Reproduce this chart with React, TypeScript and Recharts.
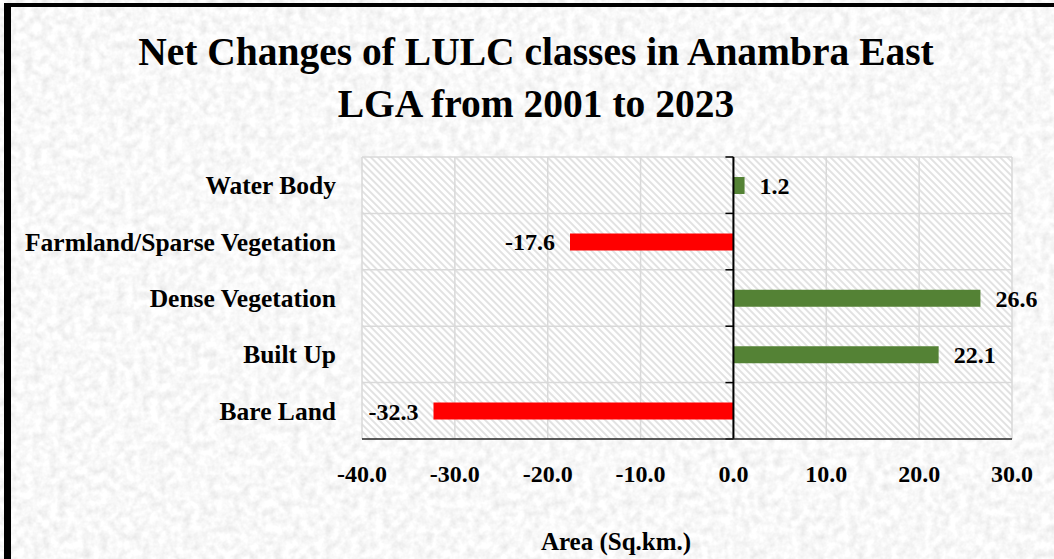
import { BarChart, Bar, XAxis, YAxis, CartesianGrid, Cell, LabelList, ReferenceLine, Label } from 'recharts';

const categories = ['Water Body', 'Farmland/Sparse Vegetation', 'Dense Vegetation', 'Built Up', 'Bare Land'];
const netChange = [1.2, -17.6, 26.6, 22.1, -32.3];
const xTicks = [-40, -30, -20, -10, 0, 10, 20, 30];

const data = categories.map((name, i) => ({ name, value: netChange[i] }));

const FONT = '"Liberation Serif", "Times New Roman", serif';
const GREEN = '#548235';
const RED = '#ff0000';

// value labels sit just past the end of each bar
const renderValue = (props: any) => {
  const { x, y, width, height, value } = props;
  const end = value >= 0 ? Math.max(x, x + width) : Math.min(x, x + width);
  const pos = value >= 0;
  return (
    <text
      x={pos ? end + 15 : end - 15}
      y={y + height / 2}
      dy="0.35em"
      textAnchor={pos ? 'start' : 'end'}
      fontFamily={FONT}
      fontWeight="bold"
      fontSize={24}
      fill="#000"
    >
      {value.toFixed(1)}
    </text>
  );
};

// zero line with small tick marks at category boundaries
const ZeroAxis = (props: any) => {
  const { x1, y1, y2 } = props;
  const top = Math.min(y1, y2);
  const h = Math.abs(y2 - y1);
  const n = categories.length;
  return (
    <g>
      <line x1={x1} x2={x1} y1={top} y2={top + h} stroke="#000" strokeWidth={2} />
      {Array.from({ length: n + 1 }, (_, i) => (
        <line key={i} x1={x1 - 8} x2={x1} y1={top + (i * h) / n} y2={top + (i * h) / n} stroke="#000" strokeWidth={1.5} />
      ))}
    </g>
  );
};

export default function App() {
  return (
    <div style={{ position: 'absolute', left: 0, top: 0, width: 1054, height: 559, overflow: 'hidden' }}>
      <svg width={1054} height={559} style={{ position: 'absolute', left: 0, top: 0 }}>
        <defs>
          <filter id="granite" x="0" y="0" width="100%" height="100%">
            <feTurbulence type="fractalNoise" baseFrequency="0.12" numOctaves={3} seed={4} />
            <feColorMatrix type="matrix" values="0.34 0 0 0 0.77  0.34 0 0 0 0.77  0.34 0 0 0 0.77  0 0 0 0 1" />
          </filter>
        </defs>
        <rect x={0} y={0} width={1054} height={559} fill="#e9e9e9" filter="url(#granite)" />
      </svg>
      <div
        style={{
          position: 'absolute', left: 4, top: 3, right: 0, bottom: 0,
          borderLeft: '7px solid #000', borderTop: '4px solid #000',
        }}
      />
      <div
        style={{
          position: 'absolute', left: 286, top: 26, width: 500, textAlign: 'center',
          fontFamily: FONT, fontWeight: 'bold', fontSize: 39.5, lineHeight: '52px', color: '#000',
          whiteSpace: 'nowrap', display: 'flex', flexDirection: 'column', alignItems: 'center',
        }}
      >
        <span>Net Changes of LULC classes in Anambra East</span>
        <span>LGA from 2001 to 2023</span>
      </div>
      <div style={{ position: 'absolute', left: 0, top: 0 }}>
        <BarChart
          width={1054}
          height={559}
          data={data}
          layout="vertical"
          margin={{ top: 157, right: 42, bottom: 0, left: 0 }}
        >
          <defs>
            <pattern id="hatch" width="5" height="5" patternUnits="userSpaceOnUse" patternTransform="rotate(-45)">
              <rect width="5" height="5" fill="#ffffff" />
              <line x1="1" y1="0" x2="1" y2="5" stroke="#d9d9d9" strokeWidth="1.5" />
            </pattern>
          </defs>
          <CartesianGrid
            fill="url(#hatch)"
            stroke="#d9d9d9"
            strokeWidth={1.5}
            horizontalCoordinatesGenerator={({ offset }: any) =>
              Array.from({ length: categories.length }, (_, i) => offset.top + (i * offset.height) / categories.length)
            }
          />
          <XAxis
            type="number"
            domain={[-40, 30]}
            ticks={xTicks}
            tickFormatter={(v: number) => v.toFixed(1)}
            tick={{ fill: '#000', fontSize: 24, fontWeight: 'bold', fontFamily: FONT }}
            tickLine={false}
            tickSize={0}
            tickMargin={26}
            axisLine={{ stroke: '#262626', strokeWidth: 1.5 }}
            height={120}
            interval={0}
          >
            <Label
              value="Area (Sq.km.)"
              position="insideBottom"
              offset={9}
              dx={-71}
              style={{ fill: '#000', fontSize: 25, fontWeight: 'bold', fontFamily: FONT }}
            />
          </XAxis>
          <YAxis
            type="category"
            dataKey="name"
            width={362}
            tickLine={false}
            axisLine={false}
            tickSize={0}
            tickMargin={26}
            interval={0}
            tick={{ fill: '#000', fontSize: 25.5, fontWeight: 'bold', fontFamily: FONT }}
          />
          <ReferenceLine x={0} stroke="#000" shape={ZeroAxis} />
          <Bar dataKey="value" barSize={17} isAnimationActive={false}>
            {data.map((d) => (
              <Cell key={d.name} fill={d.value >= 0 ? GREEN : RED} />
            ))}
            <LabelList dataKey="value" content={renderValue} />
          </Bar>
        </BarChart>
      </div>
    </div>
  );
}
